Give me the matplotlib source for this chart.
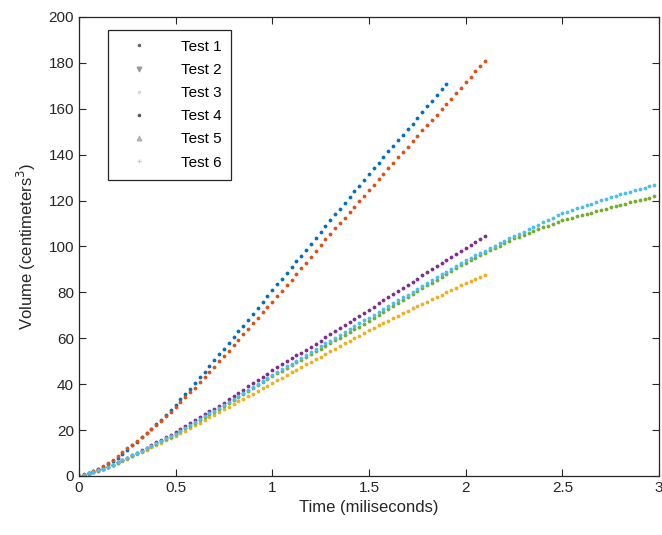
import numpy as np
import matplotlib
matplotlib.use('Agg')
import matplotlib.pyplot as plt
from matplotlib.lines import Line2D

plt.rcParams['font.family'] = ['Liberation Sans', 'DejaVu Sans']

# sampling step of the measurements (ms)
step = 0.025

test1 = [0.0, 0.6, 1.3, 2.1, 3.0, 4.1, 5.3, 6.6, 8.0, 9.7,
         11.5, 13.3, 15.0, 16.8, 18.7, 20.6, 22.5, 24.6, 26.7, 28.9,
         31.0, 33.4, 35.8, 38.1, 40.5, 43.0, 45.5, 48.0, 50.5, 53.0,
         55.5, 58.0, 60.5, 63.0, 65.5, 68.0, 70.5, 73.1, 75.8, 78.4,
         81.0, 83.5, 86.0, 88.5, 91.0, 93.5, 96.0, 98.5, 101.0, 103.6,
         106.3, 108.9, 111.5, 114.0, 116.5, 119.0, 121.5, 124.0, 126.5, 129.0,
         131.5, 134.0, 136.5, 139.0, 141.5, 143.9, 146.3, 148.6, 151.0, 153.5,
         156.0, 158.5, 161.0, 163.5, 166.0, 168.5, 171.0]

test2 = [0.0, 0.7, 1.5, 2.3, 3.2, 4.4, 5.7, 7.1, 8.5, 10.3,
         12.0, 13.7, 15.3, 16.9, 18.6, 20.3, 22.0, 24.0, 26.0, 28.0,
         30.0, 32.1, 34.2, 36.4, 38.5, 40.8, 43.0, 45.2, 47.5, 49.9,
         52.3, 54.6, 57.0, 59.4, 61.8, 64.1, 66.5, 68.9, 71.3, 73.6,
         76.0, 78.4, 80.8, 83.1, 85.5, 88.0, 90.5, 93.0, 95.5, 98.0,
         100.6, 103.2, 105.5, 107.9, 110.3, 112.6, 115.0, 117.4, 119.8, 122.1,
         124.5, 126.9, 129.3, 131.6, 134.0, 136.4, 138.8, 141.1, 143.5, 145.9,
         148.3, 150.6, 153.0, 155.3, 157.5, 159.8, 162.0, 164.4, 166.8, 169.1,
         171.5, 173.9, 176.3, 178.6, 181.0]

test3 = [0.0, 0.5, 1.0, 1.6, 2.3, 3.0, 3.8, 4.7, 5.6, 6.5,
         7.5, 8.5, 9.5, 10.5, 11.5, 12.5, 13.5, 14.5, 15.5, 16.5,
         17.5, 18.6, 19.8, 20.9, 22.1, 23.2, 24.4, 25.5, 26.7, 27.8,
         29.0, 30.2, 31.3, 32.5, 33.6, 34.8, 35.9, 37.1, 38.2, 39.4,
         40.5, 41.7, 42.8, 44.0, 45.1, 46.3, 47.4, 48.6, 49.7, 50.9,
         52.0, 53.2, 54.3, 55.5, 56.6, 57.8, 58.9, 60.1, 61.2, 62.4,
         63.5, 64.6, 65.6, 66.7, 67.7, 68.8, 69.8, 70.9, 71.9, 73.0,
         74.0, 75.0, 76.0, 77.0, 78.0, 79.0, 80.0, 81.0, 82.0, 83.0,
         84.0, 84.9, 85.8, 86.6, 87.5]

test4 = [0.0, 0.5, 1.1, 1.7, 2.4, 3.2, 4.0, 5.0, 6.0, 7.0,
         8.0, 9.1, 10.2, 11.3, 12.4, 13.5, 14.6, 15.7, 16.8, 17.9,
         19.0, 20.3, 21.6, 22.9, 24.2, 25.5, 26.8, 28.1, 29.4, 30.7,
         32.0, 33.4, 34.8, 36.2, 37.6, 39.0, 40.4, 41.8, 43.2, 44.6,
         46.0, 47.3, 48.6, 49.9, 51.2, 52.5, 53.8, 55.1, 56.4, 57.7,
         59.0, 60.4, 61.8, 63.1, 64.5, 65.8, 67.2, 68.5, 69.8, 71.2,
         72.5, 73.8, 75.2, 76.5, 77.9, 79.2, 80.6, 81.9, 83.3, 84.6,
         86.0, 87.4, 88.7, 90.1, 91.4, 92.8, 94.1, 95.5, 96.8, 98.2,
         99.5, 100.8, 102.0, 103.3, 104.5]

test5 = [0.0, 0.5, 1.0, 1.6, 2.3, 3.0, 3.8, 4.7, 5.7, 6.8,
         7.8, 8.8, 9.9, 10.9, 12.0, 13.0, 14.0, 15.1, 16.1, 17.2,
         18.2, 19.4, 20.7, 21.9, 23.1, 24.4, 25.6, 26.8, 28.0, 29.3,
         30.5, 31.8, 33.1, 34.4, 35.7, 37.0, 38.3, 39.6, 40.9, 42.2,
         43.5, 44.7, 45.9, 47.1, 48.3, 49.5, 50.7, 51.9, 53.1, 54.3,
         55.5, 56.7, 57.9, 59.1, 60.3, 61.5, 62.7, 63.9, 65.1, 66.3,
         67.5, 68.8, 70.1, 71.4, 72.7, 74.0, 75.3, 76.6, 77.9, 79.2,
         80.5, 81.8, 83.0, 84.3, 85.5, 86.8, 88.0, 89.3, 90.5, 91.8,
         93.0, 94.1, 95.1, 96.2, 97.2, 98.3, 99.3, 100.4, 101.4, 102.5,
         103.5, 104.3, 105.1, 105.9, 106.7, 107.5, 108.3, 109.1, 109.9, 110.7,
         111.5, 112.1, 112.6, 113.2, 113.7, 114.3, 114.8, 115.4, 115.9, 116.5,
         117.0, 117.5, 118.1, 118.6, 119.2, 119.7, 120.2, 120.7, 121.3, 121.8]

test6 = [0.0, 0.5, 1.1, 1.7, 2.4, 3.1, 3.9, 4.8, 5.9, 6.9,
         8.0, 9.0, 10.0, 11.0, 12.1, 13.2, 14.3, 15.3, 16.4, 17.4,
         18.5, 19.8, 21.0, 22.3, 23.5, 24.8, 26.0, 27.3, 28.5, 29.8,
         31.0, 32.3, 33.6, 34.9, 36.2, 37.5, 38.8, 40.1, 41.4, 42.7,
         44.0, 45.3, 46.5, 47.8, 49.0, 50.3, 51.5, 52.8, 54.0, 55.3,
         56.5, 57.8, 59.0, 60.3, 61.5, 62.8, 64.0, 65.3, 66.5, 67.8,
         69.0, 70.3, 71.5, 72.8, 74.0, 75.3, 76.5, 77.8, 79.0, 80.3,
         81.5, 82.8, 84.0, 85.3, 86.5, 87.8, 89.0, 90.3, 91.5, 92.8,
         94.0, 95.1, 96.1, 97.2, 98.2, 99.3, 100.3, 101.4, 102.4, 103.5,
         104.5, 105.5, 106.5, 107.5, 108.5, 109.5, 110.5, 111.5, 112.5, 113.5,
         114.5, 115.2, 115.9, 116.6, 117.3, 118.0, 118.7, 119.4, 120.1, 120.8,
         121.5, 122.1, 122.7, 123.3, 123.9, 124.4, 125.0, 125.6, 126.2, 126.8]

labels = ['Test 1', 'Test 2', 'Test 3', 'Test 4', 'Test 5', 'Test 6']
colors = ['#0072bd', '#d95319', '#edb120', '#7e2f8e', '#77ac30', '#4dbeee']
legend_grey = ['#666666', '#9a9a9a', '#d8d8d8', '#555555', '#b0b0b0', '#c8c8c8']
legend_marker = ['.', 'v', '.', '.', '^', '+']

x_ticks = [0, 0.5, 1, 1.5, 2, 2.5, 3]
x_ticklabels = ['0', '0.5', '1', '1.5', '2', '2.5', '3']
y_ticks = [0, 20, 40, 60, 80, 100, 120, 140, 160, 180, 200]

fig = plt.figure(figsize=(6.62, 5.35), dpi=100)
ax = fig.add_axes([0.1193, 0.1103, 0.8762, 0.858])

series = [test1, test2, test3, test4, test5, test6]
for vals, c in zip(series, colors):
    t = np.arange(len(vals)) * step
    ax.plot(t, vals, linestyle='none', marker='.', markersize=5.5,
            color=c, markeredgewidth=0)

ax.set_xlim(0, 3)
ax.set_ylim(0, 200)
ax.set_xticks(x_ticks)
ax.set_xticklabels(x_ticklabels)
ax.set_yticks(y_ticks)
ax.tick_params(direction='in', top=True, right=True, length=5,
               width=0.8, labelsize=11, colors='#262626')
for s in ax.spines.values():
    s.set_color('#262626')
    s.set_linewidth(0.9)

ax.set_xlabel('Time (miliseconds)', fontsize=12, color='#262626', labelpad=4)
ax.set_ylabel('Volume (centimeters$^3$)', fontsize=12, color='#262626', labelpad=8)

handles = [Line2D([], [], linestyle='none', marker=m, markersize=3.5,
                  color=g, markeredgewidth=0.8)
           for m, g in zip(legend_marker, legend_grey)]
leg = ax.legend(handles, labels, loc='upper left', bbox_to_anchor=(0.05, 0.972),
                borderaxespad=0, fontsize=11, labelspacing=0.6,
                handlelength=2.8, handletextpad=1.3, borderpad=0.65,
                fancybox=False, framealpha=1)
leg.get_frame().set_edgecolor('#262626')
leg.get_frame().set_linewidth(0.9)

fig.savefig('out.png', dpi=100)
